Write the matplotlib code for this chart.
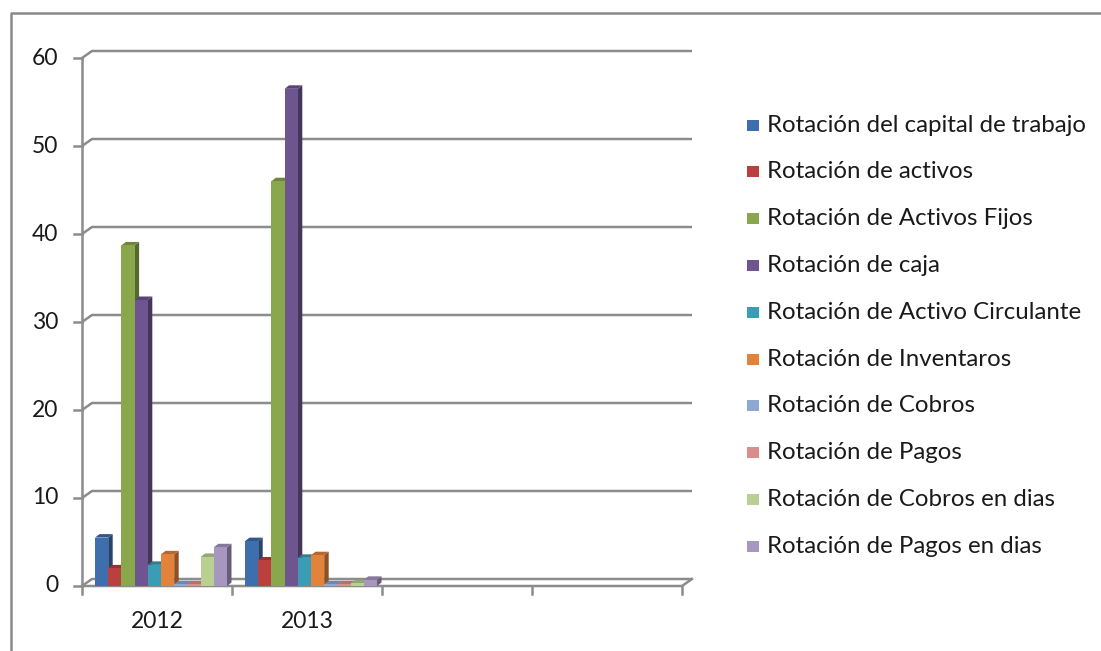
import matplotlib
matplotlib.use("Agg")
import matplotlib.pyplot as plt
from matplotlib.patches import Polygon, Rectangle
from matplotlib.lines import Line2D
import matplotlib.colors as mcolors

categories = ["2012", "2013", "", ""]
series_names = [
    "Rotación del capital de trabajo",
    "Rotación de activos",
    "Rotación de Activos Fijos",
    "Rotación de caja",
    "Rotación de Activo Circulante",
    "Rotación de Inventaros",
    "Rotación de Cobros",
    "Rotación de Pagos",
    "Rotación de Cobros en dias",
    "Rotación de Pagos en dias",
]
values_2012 = [5.5, 2.0, 38.7, 32.5, 2.4, 3.6, 0.2, 0.2, 3.3, 4.4]
values_2013 = [5.1, 2.9, 46.0, 56.5, 3.2, 3.5, 0.2, 0.2, 0.3, 0.7]
yticks = [0, 10, 20, 30, 40, 50, 60]
colors = ["#3E6EAE", "#B9403E", "#88A84B", "#6E5590", "#3B9CB5", "#E3823A",
          "#8DA9D3", "#D98E8C", "#BAD092", "#A696C0"]

W, H = 1101, 651
fig = plt.figure(figsize=(W / 100, H / 100), dpi=100)
plt.rcParams['font.family'] = ['Lato', 'DejaVu Sans']

# pixel geometry
x0_px, x1_px, y0_px, ytop_px = 82, 695, 586, 50
cat_px = 150.0
unit_px = 8.8
ax = fig.add_axes([x0_px / W, 1 - y0_px / H, (x1_px - x0_px) / W, (y0_px - ytop_px) / H])
ax.set_xlim(0, (x1_px - x0_px) / cat_px)
ax.set_ylim(0, (y0_px - ytop_px) / unit_px)
ax.axis('off')

px_x = 1 / cat_px
px_y = 1 / unit_px
ddx, ddy = 10 * px_x, 7 * px_y  # back wall offset
ncat = len(categories)
gcol = "#8c8c8c"
tcol = "#1a1a1a"

# gridlines on back wall + diagonal connectors
for v in yticks:
    ax.plot([0, ddx, ncat + ddx], [v, v + ddy, v + ddy], color=gcol, lw=1.8,
            clip_on=False, solid_capstyle='butt', zorder=1)
    ax.plot([-8 * px_x, 0], [v, v], color=gcol, lw=1.8, clip_on=False, zorder=1)
    ax.text(-24 * px_x, v, str(v), ha='right', va='center', fontsize=16.5,
            color=tcol)
# front y axis
ax.plot([0, 0], [0, yticks[-1]], color=gcol, lw=1.8, clip_on=False, zorder=1)
# floor front edge + right diagonal
ax.plot([0, ncat, ncat + ddx], [0, 0, ddy], color=gcol, lw=1.8, clip_on=False, zorder=1)
for i in range(ncat + 1):
    ax.plot([i, i], [0, -8 * px_y], color=gcol, lw=1.8, clip_on=False, zorder=1)
for i, c in enumerate(categories):
    ax.text(i + 0.5, -36 * px_y, c, ha='center', va='center', fontsize=16.5,
            color=tcol)

# bars with pseudo 3D
bw = 13.2 * px_x
start = 13 * px_x
sdx, sdy = 4.5 * px_x, 3.5 * px_y


def shade(c, f):
    r, g, b = mcolors.to_rgb(c)
    return (r * f, g * f, b * f)


z = 5
for ci, vals in enumerate([values_2012, values_2013]):
    for si, v in enumerate(vals):
        left = ci + start + si * bw
        right = left + bw
        col = colors[si]
        side = Polygon([(right, 0), (right + sdx, sdy), (right + sdx, v + sdy), (right, v)],
                       closed=True, facecolor=shade(col, 0.62), edgecolor='none', zorder=z)
        top = Polygon([(left, v), (left + sdx, v + sdy), (right + sdx, v + sdy), (right, v)],
                      closed=True, facecolor=shade(col, 0.8), edgecolor='none', zorder=z)
        ax.add_patch(side)
        ax.add_patch(top)
        ax.bar(left, v, width=bw, align='edge', color=col, edgecolor='none', zorder=z + 0.5)
        z += 1

# legend
leg_y0, leg_dy = 125, 46.8
for si, name in enumerate(series_names):
    yc = leg_y0 + si * leg_dy
    fig.add_artist(Rectangle((747 / W, 1 - (yc + 5.5) / H), 12 / W, 11 / H,
                             transform=fig.transFigure, facecolor=colors[si],
                             edgecolor='none'))
    fig.text(767 / W, 1 - yc / H, name, ha='left', va='center', fontsize=17.3,
             color=tcol)

# outer frame (left and top)
fig.add_artist(Line2D([11 / W, 11 / W, 1.0], [0.0, 1 - 13 / H, 1 - 13 / H],
                      transform=fig.transFigure, color='#8a8a8a', lw=1.8))

fig.savefig("out.png", dpi=100)
